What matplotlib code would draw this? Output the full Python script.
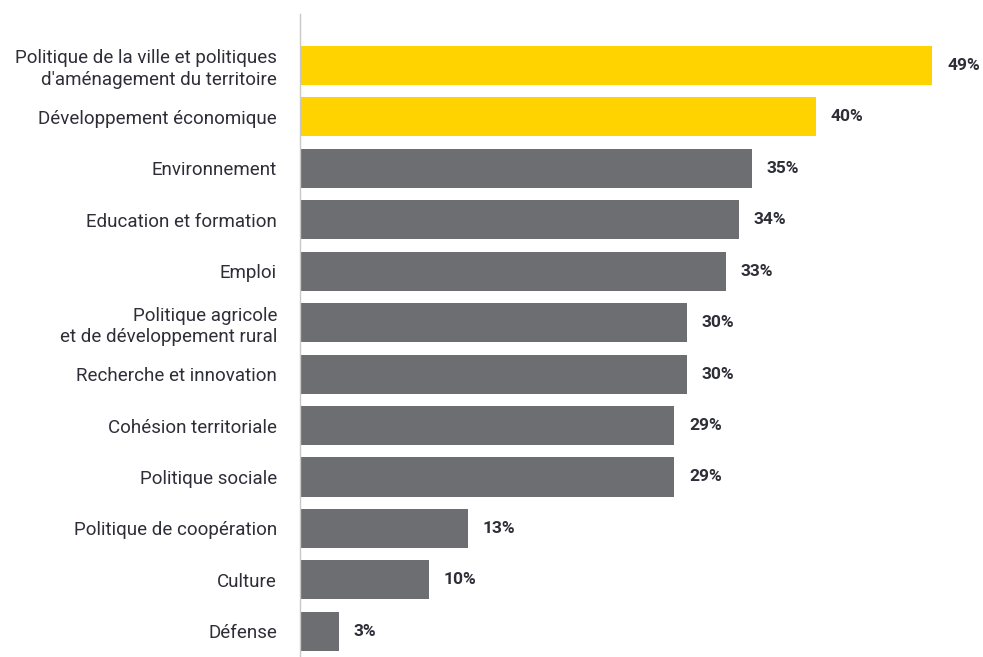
import matplotlib
matplotlib.use("Agg")
import matplotlib.pyplot as plt

categories = [
    "Politique de la ville et politiques\nd'aménagement du territoire",
    "Développement économique",
    "Environnement",
    "Education et formation",
    "Emploi",
    "Politique agricole\net de développement rural",
    "Recherche et innovation",
    "Cohésion territoriale",
    "Politique sociale",
    "Politique de coopération",
    "Culture",
    "Défense",
]
values = [49, 40, 35, 34, 33, 30, 30, 29, 29, 13, 10, 3]
highlight = [True, True] + [False] * 10

YELLOW = "#FFD300"
GRAY = "#6D6E71"
TEXT = "#2E2E38"

plt.rcParams['font.family'] = ['Roboto', 'DejaVu Sans']

W, H = 983, 657
fig = plt.figure(figsize=(W / 100, H / 100), dpi=100)
left_px, top_px = 300, 14
ax = fig.add_axes([left_px / W, 0, 1 - left_px / W, 1 - top_px / H])

pos = list(range(len(values)))
colors = [YELLOW if h else GRAY for h in highlight]
ax.barh(pos, values, height=0.76, color=colors, left=0)
ax.set_ylim(11.5, -1.0)
px_per_unit = 12.9
ax.set_xlim(0, (W - left_px) / px_per_unit)

for p, v in zip(pos, values):
    ax.annotate(f"{v}%", (v, p), xytext=(15, 0), textcoords="offset pixels",
                va="center", ha="left", fontsize=12.5, fontweight="bold", color=TEXT,
                annotation_clip=False)

ax.set_yticks(pos)
ax.set_yticklabels(categories, fontsize=13.5, color=TEXT, linespacing=1.25)
ax.tick_params(axis="y", length=0, pad=16.5)
ax.tick_params(axis="x", bottom=False, labelbottom=False)
for s in ["top", "right", "bottom"]:
    ax.spines[s].set_visible(False)
ax.spines["left"].set_color("#C8C8C8")
ax.spines["left"].set_linewidth(1)
for lbl in ax.get_yticklabels():
    lbl.set_horizontalalignment("right")

fig.savefig("out.png", dpi=100)
